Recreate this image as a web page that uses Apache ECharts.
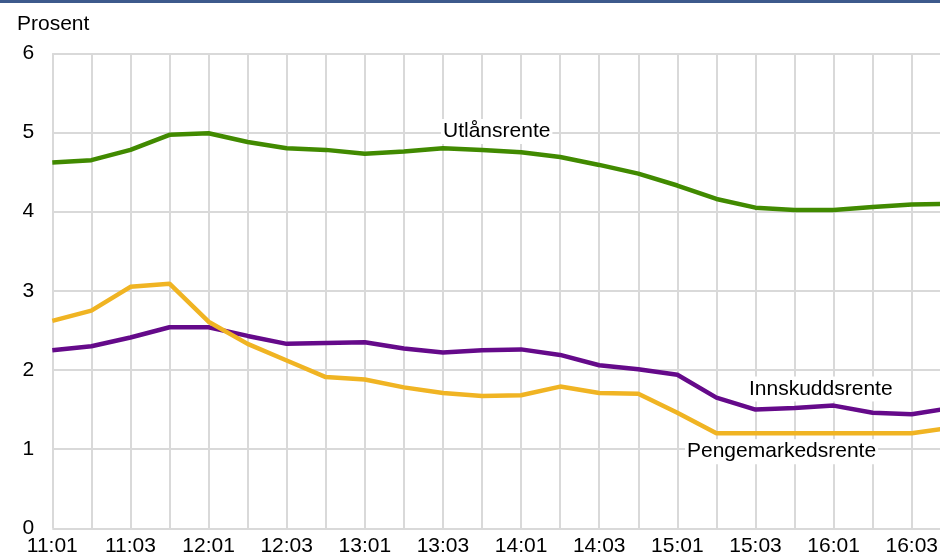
<!DOCTYPE html>
<html>
<head>
<meta charset="utf-8">
<script src="https://cdn.jsdelivr.net/npm/echarts@6/dist/echarts.min.js"></script>
<style>
html,body{margin:0;padding:0;background:#fff;}
#c{width:940px;height:556px;}
</style>
</head>
<body>
<div id="c"></div>
<script>
var categories = ['11:01','11:02','11:03','11:04','12:01','12:02','12:03','12:04','13:01','13:02','13:03','13:04','14:01','14:02','14:03','14:04','15:01','15:02','15:03','15:04','16:01','16:02','16:03','16:04'];
var utlansrente = [4.62,4.65,4.78,4.97,4.99,4.88,4.80,4.78,4.73,4.76,4.80,4.78,4.75,4.69,4.59,4.48,4.33,4.16,4.05,4.02,4.02,4.06,4.09,4.10];
var innskuddsrente = [2.25,2.30,2.41,2.54,2.54,2.43,2.33,2.34,2.35,2.27,2.22,2.25,2.26,2.19,2.06,2.01,1.94,1.65,1.50,1.52,1.55,1.46,1.44,1.52];
var pengemarkedsrente = [2.62,2.75,3.05,3.09,2.61,2.33,2.12,1.91,1.88,1.78,1.71,1.67,1.68,1.79,1.71,1.70,1.46,1.20,1.20,1.20,1.20,1.20,1.20,1.27];
var yTicks = [0,1,2,3,4,5,6];
var unitLabel = 'Prosent';
var seriesNames = ['Utlånsrente','Innskuddsrente','Pengemarkedsrente'];

var FONT = 'Arial, "Liberation Sans", sans-serif';
var chart = echarts.init(document.getElementById('c'), null, {renderer:'canvas'});
var gridColor = '#d9d9d9';
var option = {
  animation: false,
  backgroundColor: '#fff',
  title: {
    text: unitLabel, left: 17, top: 14, padding: 0,
    textStyle: {fontFamily: FONT, fontSize: 21, fontWeight: 'normal', color: '#000'}
  },
  grid: {left: 52.3, top: 53.3, right: -10.8, bottom: 27.7, containLabel: false, outerBoundsMode: 'none'},
  xAxis: {
    type: 'category', data: categories, boundaryGap: false,
    axisLine: {show: false}, axisTick: {show: false},
    axisLabel: {interval: 1, margin: 7, fontFamily: FONT, fontSize: 21, color: '#000', hideOverlap: false},
    splitLine: {show: true, interval: 0, lineStyle: {color: gridColor, width: 2}}
  },
  yAxis: {
    type: 'value', min: yTicks[0], max: yTicks[yTicks.length-1], interval: 1,
    axisLine: {show: false}, axisTick: {show: false},
    axisLabel: {margin: 18, fontFamily: FONT, fontSize: 21, color: '#000'},
    splitLine: {show: true, lineStyle: {color: gridColor, width: 2}}
  },
  series: [
    {name: seriesNames[0], type: 'line', data: utlansrente, symbol: 'none', lineStyle: {color: '#418a00', width: 4.5}, itemStyle:{color:'#418a00'}},
    {name: seriesNames[1], type: 'line', data: innskuddsrente, symbol: 'none', lineStyle: {color: '#650a8a', width: 4.5}, itemStyle:{color:'#650a8a'}},
    {name: seriesNames[2], type: 'line', data: pengemarkedsrente, symbol: 'none', lineStyle: {color: '#f0b423', width: 4.5}, itemStyle:{color:'#f0b423'}}
  ],
  graphic: [
    {type: 'rect', left: 0, top: 0, shape: {width: 940, height: 3}, style: {fill: '#3d5a8c'}, z: 100},
    {type: 'text', x: 441, y: 131.5, z: 100, style: {text: seriesNames[0], font: '21px ' + FONT, fill: '#000', verticalAlign: 'middle', backgroundColor: '#fff', padding: [2, 2]}},
    {type: 'text', x: 747, y: 389, z: 100, style: {text: seriesNames[1], font: '21px ' + FONT, fill: '#000', verticalAlign: 'middle', backgroundColor: '#fff', padding: [2, 2]}},
    {type: 'text', x: 685, y: 451.7, z: 100, style: {text: seriesNames[2], font: '21px ' + FONT, fill: '#000', verticalAlign: 'middle', backgroundColor: '#fff', padding: [2, 2]}}
  ]
};
chart.setOption(option);
</script>
</body>
</html>
